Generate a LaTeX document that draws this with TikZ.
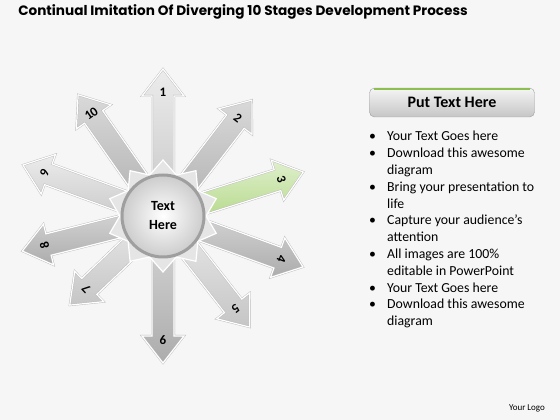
\documentclass[tikz,border=0pt]{standalone}
\usepackage{fontspec}
\setmainfont{Carlito}
\newfontfamily\titlefont{Poppins}
\usetikzlibrary{shapes.geometric}
\definecolor{bgpage}{RGB}{246,246,246}
\definecolor{greenedge}{RGB}{140,190,80}
\definecolor{greenarm}{RGB}{176,215,130}

\begin{document}
\begin{tikzpicture}[x=1pt,y=1pt,
    arm/.style={draw=gray!55, double=white, double distance=1.2pt, line join=miter},
    armlite/.style={top color=gray!15, bottom color=gray!45},
    armdark/.style={top color=gray!30, bottom color=gray!65},
    armgreen/.style={top color=greenarm!40, bottom color=greenarm},
    num/.style={font=\bfseries\fontsize{13}{13}\selectfont, inner sep=0pt},
    button/.style={rounded corners=5pt, minimum width=165, minimum height=29,
      top color=gray!8, bottom color=gray!45, draw=gray!75,
      font=\bfseries\fontsize{16}{16}\selectfont}]
    \fill[bgpage] (0,0) rectangle (560,420);
    \node[font=\titlefont\bfseries\fontsize{13.6}{14}\selectfont] (title) at (243,408)
      {Continual Imitation Of Diverging 10 Stages Development Process};
    \coordinate (c) at (163,204);
    \foreach \ang/\len/\tone/\lbl/\tilt in {
        90/147/armlite/1/0, 52.5/146/armdark/2/-37.5,
        -20/149/armdark/4/-110, -52/141/armlite/5/-142,
        -90/147/armdark/6/0, 223.7/129/armlite/7/133.7,
        194/145/armdark/8/104, 160/149/armlite/9/70,
        125/148/armdark/10/35, 17.4/147/armgreen/3/-72.6} {
      \begin{scope}[shift={(c)}, rotate=\ang]
        \draw[arm, \tone] (0,-11) -- (\len-27,-11) -- (\len-27,-21)
          -- (\len,0) -- (\len-27,21) -- (\len-27,11) -- (0,11) -- cycle;
        \node[num, rotate=\tilt] (n\lbl) at (\len-23,0) {\lbl};
      \end{scope}
    }
    \node[star, star points=10, star point ratio=1.3, minimum size=112,
      draw=white, line width=1.2pt, fill=gray!20] (burst) at (c) {};
    \node[circle, minimum size=82, inner color=white, outer color=gray!40,
      draw=gray!75, line width=3pt, align=center,
      font=\bfseries\fontsize{14}{19}\selectfont] (hub) at (c) {Text\\Here};
    \node[button] (head) at (452,317.5) {Put Text Here};
    \draw[greenedge, line width=2pt] ([xshift=5pt,yshift=-1pt]head.north west)
      -- ([xshift=-5pt,yshift=-1pt]head.north east);
    \node[anchor=base west, inner sep=0pt, font=\fontsize{13.8}{16.8}\selectfont] (notes) at (369,279) {%
      \begin{tabular}[t]{@{}p{18pt}@{}l@{}}
        \textbullet & Your Text Goes here\\
        \textbullet & Download this awesome\\
                    & diagram\\
        \textbullet & Bring your presentation to\\
                    & life\\
        \textbullet & Capture your audience’s\\
                    & attention\\
        \textbullet & All images are 100\%\\
                    & editable in PowerPoint\\
        \textbullet & Your Text Goes here\\
        \textbullet & Download this awesome\\
                    & diagram
      \end{tabular}};
    \node[font=\fontsize{9}{9}\selectfont] (logo) at (527,12) {Your Logo};
\end{tikzpicture}
\end{document}
